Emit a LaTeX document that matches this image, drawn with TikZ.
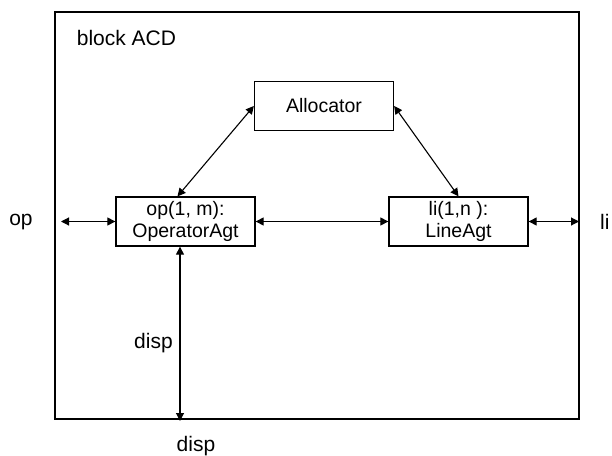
\documentclass[tikz,border=0pt]{standalone}
\usepackage{fontspec}
\setmainfont{Liberation Sans}
\usetikzlibrary{arrows.meta}
\begin{document}
\begin{tikzpicture}[x=1pt,y=-1pt,
  font=\fontsize{21}{24}\selectfont,
  box/.style={draw, line width=1.3pt, minimum width=139pt, minimum height=49pt, inner sep=0pt, align=center, font=\fontsize{19.5}{22.5}\selectfont},
  link/.style={line width=1.1pt, {Triangle[length=8pt,width=8pt]}-{Triangle[length=8pt,width=8pt]}},
  lbl/.style={inner sep=0pt}]
\useasboundingbox (0,0) rectangle (612,455);
\node[draw, line width=2pt, minimum width=524pt, minimum height=407pt, inner sep=0pt] (blk) at (317,215) {};
\node[box] (alloc) at (324,106) {Allocator};
\node[box] (op) at (185.5,221.5) {op(1, m):\\OperatorAgt};
\node[box] (li) at (458.5,221.5) {li(1,n ):\\LineAgt};
\node[lbl] (title) at (126.5,38) {block ACD};
\node[lbl] (oplbl) at (21,222) {op};
\node[lbl, anchor=west] (lilbl) at (600,222) {li};
\node[lbl] (disp1) at (153.5,343) {disp};
\node[lbl] (disp2) at (196,446) {disp};
\coordinate (opL) at (61,221.5);
\coordinate (liR) at (579,221.5);
\coordinate (dispB) at (180,421);
\draw[link] (alloc.west) -- ([xshift=-8pt]op.north);
\draw[link] (alloc.east) -- (li.north);
\draw[link] (opL) -- (op.west);
\draw[link] (op.east) -- (li.west);
\draw[link] (li.east) -- (liR);
\draw[link] ([xshift=-5.5pt]op.south) -- (dispB);
\end{tikzpicture}
\end{document}
